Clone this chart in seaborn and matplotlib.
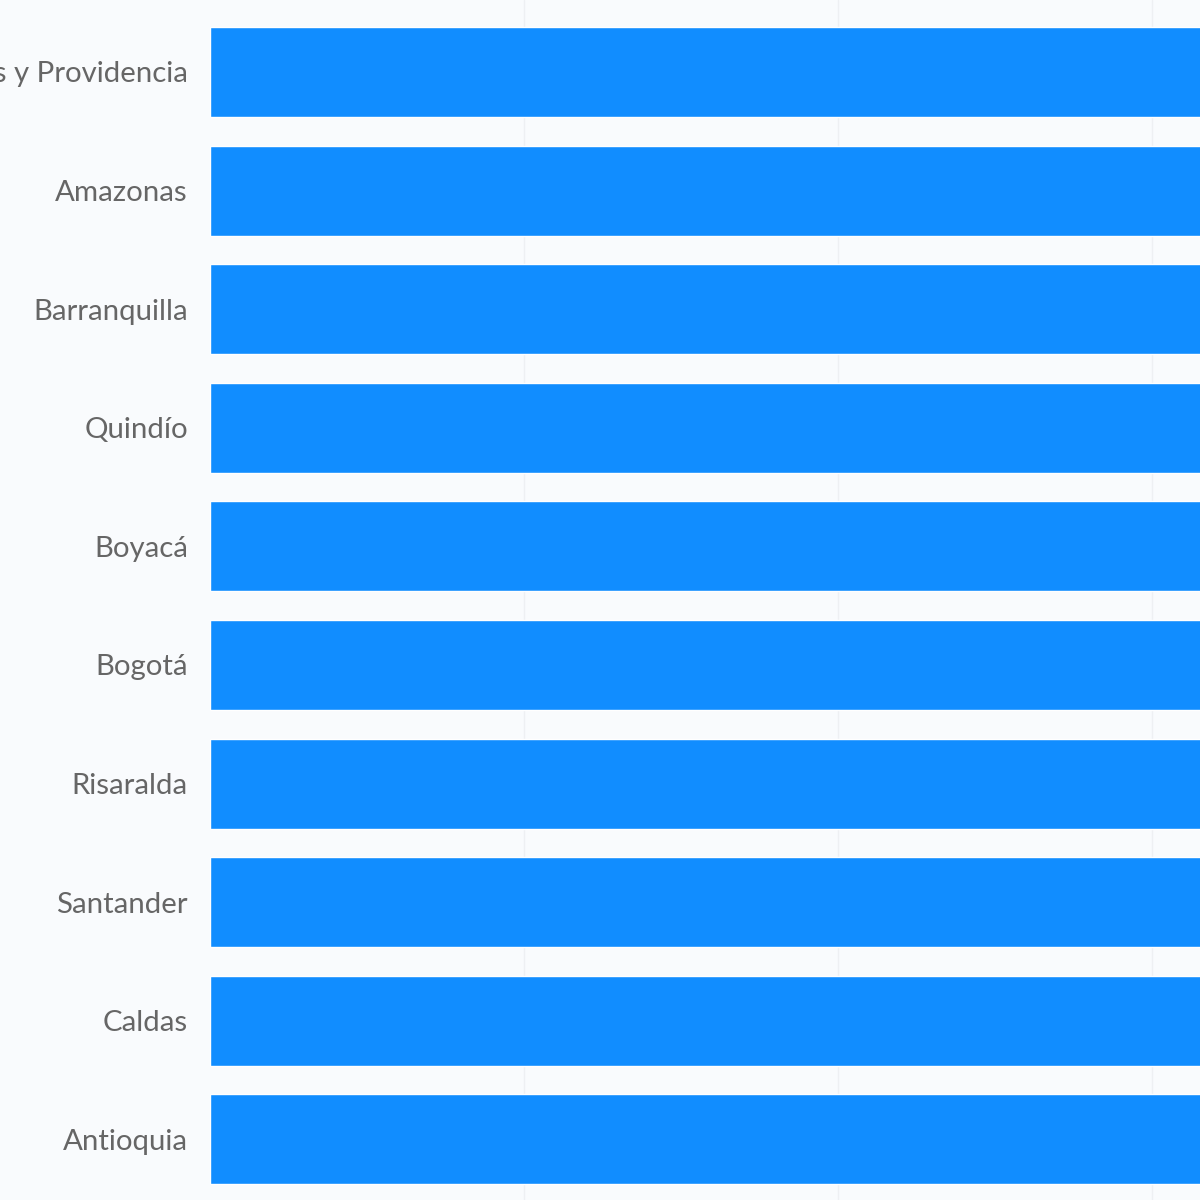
import pandas as pd
import matplotlib.pyplot as plt
import seaborn as sns

# Departamentos (top to bottom) and values (bars run past the visible crop)
departamentos = ["San Andrés y Providencia", "Amazonas", "Barranquilla", "Quindío",
                 "Boyacá", "Bogotá", "Risaralda", "Santander", "Caldas", "Antioquia"]
valores = [98, 96, 94, 92, 90, 88, 86, 84, 82, 80]
ticks_x = [0, 20, 40, 60]

df = pd.DataFrame({"departamento": departamentos, "valor": valores})

sns.set_theme(style="white")
plt.rcParams["font.family"] = ["Lato", "DejaVu Sans"]

bg = "#f9fbfd"
fig = plt.figure(figsize=(12, 12), dpi=100, facecolor=bg)
ax = fig.add_axes([0.175, 0.0, 0.825, 1.0])
ax.set_facecolor(bg)

sns.barplot(data=df, y="departamento", x="valor", color="#118dff",
            saturation=1, width=0.76, orient="h", ax=ax)

ax.set_xlim(0, 63.06)
ax.set_ylim(9.511, -0.607)
ax.set_xticks(ticks_x[1:])
ax.xaxis.grid(True, color="#eef0f3", linewidth=1)
ax.set_axisbelow(True)
ax.tick_params(axis="x", length=0, labelbottom=False)
ax.tick_params(axis="y", length=0, pad=16, labelsize=21.2, labelcolor="#666666")
ax.set_xlabel("")
ax.set_ylabel("")
for s in ax.spines.values():
    s.set_visible(False)

fig.savefig("out.png", dpi=100, facecolor=bg)
